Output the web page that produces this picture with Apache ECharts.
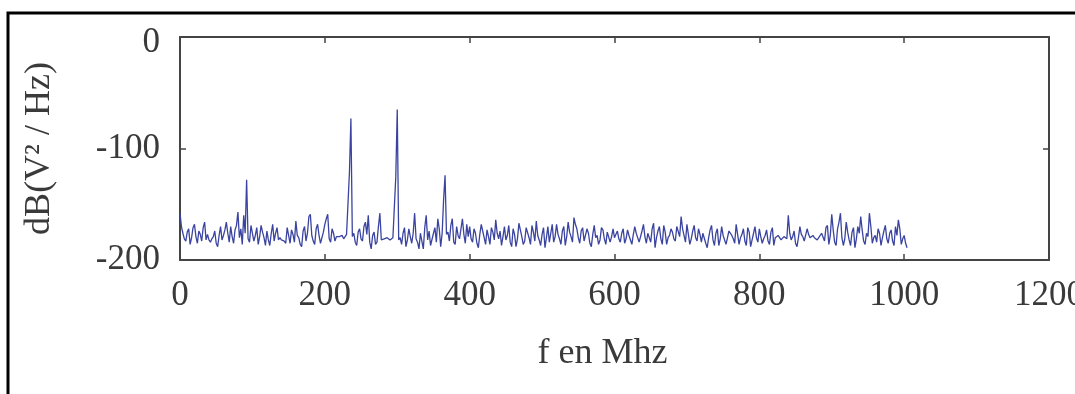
<!DOCTYPE html>
<html>
<head>
<meta charset="utf-8">
<script src="https://cdn.jsdelivr.net/npm/echarts@6/dist/echarts.min.js"></script>
<style>
html,body{margin:0;padding:0;background:#fff;}
#chart{width:1075px;height:394px;}
</style>
</head>
<body>
<div id="chart"></div>
<script>
// Frequency step (MHz) between samples; samples start at 0 MHz
const freqStep = 2;
// Power spectral density values in dB(V²/Hz), one per 2 MHz from 0 to 1004 MHz
const psd = [
  -158, -170, -176, -181, -183, -175, -172, -186, -180, -171, -168, -179, -185, -174, -177, -183, -171, -166, -182, -177,
  -182, -184, -181, -179, -174, -185, -188, -178, -170, -182, -178, -173, -166, -176, -184, -170, -179, -185, -173, -169,
  -157, -180, -172, -186, -160, -176, -128, -181, -184, -169, -170, -183, -178, -171, -186, -179, -169, -175, -180, -187,
  -174, -182, -187, -176, -168, -183, -176, -171, -182, -180, -182, -181, -183, -185, -171, -178, -185, -173, -177, -184,
  -165, -178, -180, -186, -188, -174, -170, -183, -176, -161, -159, -178, -183, -186, -172, -168, -178, -185, -186, -175,
  -168, -163, -159, -181, -184, -172, -176, -183, -179, -178, -179, -180, -178, -181, -180, -177, -178, -121, -73, -179,
  -176, -184, -187, -175, -172, -181, -183, -170, -166, -177, -160, -184, -190, -178, -175, -186, -184, -170, -158, -182,
  -183, -181, -182, -180, -181, -182, -183, -180, -181, -125, -65, -182, -180, -186, -176, -171, -188, -182, -172, -179,
  -185, -176, -158, -181, -184, -190, -176, -183, -190, -171, -160, -182, -174, -187, -186, -176, -171, -184, -163, -172,
  -188, -176, -146, -124, -177, -175, -183, -169, -163, -184, -186, -170, -178, -181, -182, -163, -177, -185, -168, -179,
  -170, -181, -184, -172, -176, -185, -189, -177, -168, -174, -180, -186, -173, -179, -186, -171, -175, -182, -164, -176,
  -181, -174, -187, -179, -170, -182, -178, -169, -184, -188, -172, -177, -188, -181, -167, -173, -179, -186, -183, -171,
  -171, -180, -186, -169, -175, -183, -165, -178, -182, -187, -177, -171, -189, -180, -170, -184, -176, -168, -184, -179,
  -168, -177, -181, -186, -174, -170, -187, -179, -166, -175, -179, -184, -162, -168, -172, -180, -185, -174, -171, -183,
  -183, -172, -176, -185, -188, -177, -169, -180, -178, -186, -182, -171, -173, -181, -186, -175, -175, -184, -179, -172,
  -180, -177, -174, -181, -184, -176, -172, -185, -181, -173, -178, -182, -186, -177, -170, -176, -176, -184, -183, -174,
  -168, -179, -185, -176, -177, -184, -172, -167, -189, -180, -174, -170, -181, -186, -169, -175, -186, -180, -178, -172,
  -175, -181, -183, -170, -171, -179, -161, -172, -178, -184, -168, -177, -186, -181, -174, -169, -180, -183, -172, -177,
  -184, -176, -177, -185, -189, -180, -173, -169, -182, -187, -176, -172, -187, -181, -170, -178, -179, -186, -185, -174,
  -174, -178, -181, -185, -168, -177, -186, -180, -177, -172, -183, -187, -171, -175, -188, -182, -176, -170, -180, -184,
  -172, -179, -185, -181, -178, -173, -183, -186, -175, -171, -187, -180, -179, -178, -180, -182, -181, -179, -178, -181,
  -160, -176, -182, -179, -174, -185, -188, -180, -170, -177, -179, -183, -184, -172, -177, -180, -181, -178, -180, -179,
  -182, -180, -181, -176, -176, -183, -171, -169, -186, -178, -159, -173, -184, -187, -172, -166, -158, -180, -187, -181,
  -166, -175, -182, -187, -175, -171, -189, -181, -170, -176, -161, -173, -183, -186, -176, -179, -158, -170, -185, -180,
  -178, -184, -172, -176, -187, -180, -174, -169, -181, -185, -176, -173, -183, -187, -170, -178, -164, -172, -186, -181,
  -178, -185, -189
];
const xTicks = [0, 200, 400, 600, 800, 1000, 1200];
const yTicks = [0, -100, -200];
const xTitle = 'f en Mhz';
const yTitle = 'dB(V\u00B2 / Hz)';

const seriesData = psd.map((v, i) => [i * freqStep, v]);

const font = 'Liberation Serif, DejaVu Serif, serif';
const txt = '#3a3a3a';
const axisCol = '#444';
const plain = v => String(v);

const chart = echarts.init(document.getElementById('chart'), null, {renderer: 'canvas'});
chart.setOption({
  animation: false,
  backgroundColor: '#fff',
  graphic: [{
    type: 'rect',
    shape: {x: 8, y: 13, width: 1200, height: 600},
    style: {fill: 'none', stroke: '#000', lineWidth: 3},
    silent: true,
    z: 100
  }],
  grid: {left: 180, right: 26, top: 37, bottom: 134, containLabel: false, outerBoundsMode: 'none'},
  xAxis: [{
    type: 'value',
    min: xTicks[0], max: xTicks[xTicks.length - 1], interval: 200,
    position: 'bottom',
    name: xTitle, nameLocation: 'middle', nameGap: 76,
    nameTextStyle: {fontFamily: font, fontSize: 36, color: txt, padding: [0, 24, 0, 0]},
    axisLine: {show: true, onZero: false, lineStyle: {color: axisCol, width: 2}},
    axisTick: {show: true, inside: true, length: 6, lineStyle: {color: axisCol, width: 1.5}},
    axisLabel: {fontFamily: font, fontSize: 35, color: txt, margin: 18, formatter: plain},
    splitLine: {show: false}
  }, {
    type: 'value',
    min: xTicks[0], max: xTicks[xTicks.length - 1], interval: 200,
    position: 'top',
    axisLine: {show: true, onZero: false, lineStyle: {color: axisCol, width: 2}},
    axisTick: {show: true, inside: true, length: 6, lineStyle: {color: axisCol, width: 1.5}},
    axisLabel: {show: false},
    splitLine: {show: false}
  }],
  yAxis: [{
    type: 'value',
    min: yTicks[2], max: yTicks[0], interval: 100,
    position: 'left',
    name: yTitle, nameLocation: 'middle', nameGap: 122, nameRotate: 90,
    nameTextStyle: {fontFamily: font, fontSize: 36, color: txt},
    axisLine: {show: true, onZero: false, lineStyle: {color: axisCol, width: 2}},
    axisTick: {show: true, inside: true, length: 6, lineStyle: {color: axisCol, width: 1.5}},
    axisLabel: {
      fontFamily: font, fontSize: 35, color: txt, margin: 20,
      formatter: v => (v === 0 ? '{low|0}' : String(v)),
      rich: {low: {fontFamily: font, fontSize: 35, color: txt, padding: [12, 0, 0, 0]}}
    },
    splitLine: {show: false}
  }, {
    type: 'value',
    min: yTicks[2], max: yTicks[0], interval: 100,
    position: 'right',
    axisLine: {show: true, onZero: false, lineStyle: {color: axisCol, width: 2}},
    axisTick: {show: true, inside: true, length: 6, lineStyle: {color: axisCol, width: 1.5}},
    axisLabel: {show: false},
    splitLine: {show: false}
  }],
  series: [{
    type: 'line',
    data: seriesData,
    xAxisIndex: 0, yAxisIndex: 0,
    showSymbol: false,
    symbol: 'none',
    lineStyle: {color: '#3a44a0', width: 1.3},
    z: 3
  }]
});
</script>
</body>
</html>
